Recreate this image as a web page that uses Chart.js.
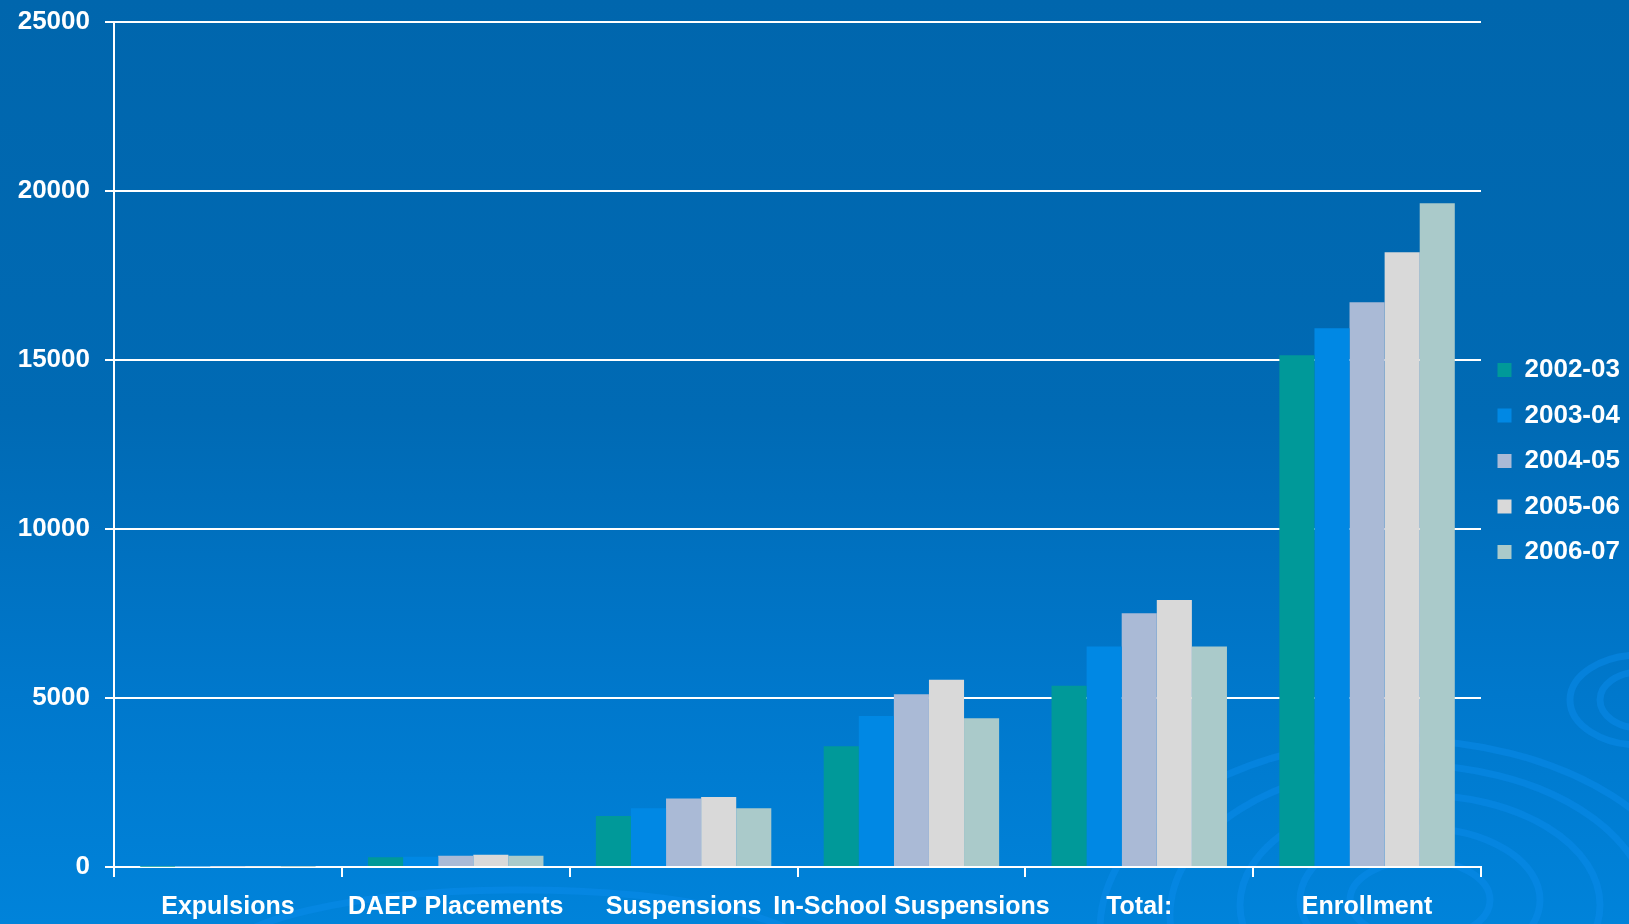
<!DOCTYPE html>
<html>
<head>
<meta charset="utf-8">
<script src="https://cdn.jsdelivr.net/npm/chart.js@4/dist/chart.umd.min.js"></script>
<style>
  html, body { margin: 0; padding: 0; overflow: hidden; }
  body { width: 1629px; height: 924px; position: relative;
         background: linear-gradient(to bottom, #0066AD 0%, #006AB4 45%, #0078CC 75%, #0083DA 100%); }
  #bg { position: absolute; left: 0; top: 0; width: 1629px; height: 924px; }
  #wrap { position: absolute; left: 0; top: 0; width: 1629px; height: 924px; }
</style>
</head>
<body>
<svg id="bg" width="1629" height="924" xmlns="http://www.w3.org/2000/svg">
  <g fill="none" stroke="#0A8CEB" stroke-opacity="0.5" stroke-width="7">
    <ellipse cx="1420" cy="900" rx="70" ry="40"/>
    <ellipse cx="1420" cy="900" rx="120" ry="72"/>
    <ellipse cx="1420" cy="905" rx="180" ry="110"/>
    <ellipse cx="1410" cy="915" rx="240" ry="150"/>
    <ellipse cx="1400" cy="930" rx="300" ry="190"/>
    <ellipse cx="1640" cy="700" rx="40" ry="28"/>
    <ellipse cx="1640" cy="700" rx="70" ry="45"/>
    <ellipse cx="520" cy="960" rx="300" ry="70"/>
  </g>
</svg>
<div id="wrap"><canvas id="c"></canvas></div>
<script>
const categories = ['Expulsions', 'DAEP Placements', 'Suspensions', 'In-School Suspensions', 'Total:', 'Enrollment'];
const seriesNames = ['2002-03', '2003-04', '2004-05', '2005-06', '2006-07'];
const values2002_03 = [10, 290, 1510, 3570, 5360, 15140];
const values2003_04 = [12, 300, 1740, 4470, 6520, 15940];
const values2004_05 = [14, 330, 2030, 5110, 7510, 16710];
const values2005_06 = [15, 360, 2070, 5540, 7900, 18190];
const values2006_07 = [11, 330, 1740, 4400, 6520, 19640];
const yTicks = [0, 5000, 10000, 15000, 20000, 25000];

const seriesValues = [values2002_03, values2003_04, values2004_05, values2005_06, values2006_07];
const seriesColors = ['#009999', '#0088E4', '#AABAD6', '#D9D9D9', '#AACACA'];

const FONT = "'Liberation Sans', Arial, sans-serif";

const datasets = seriesNames.map((name, i) => ({
  label: name,
  data: seriesValues[i],
  backgroundColor: seriesColors[i],
  borderWidth: 0,
  categoryPercentage: 0.77,
  barPercentage: 1.0
}));

const legendNudge = {
  id: 'legendNudge',
  afterLayout(chart) {
    const lg = chart.legend;
    if (!lg) return;
    lg.top -= 12; lg.bottom -= 12;
    lg.left -= 3; lg.right -= 3;
  }
};

new Chart(document.getElementById('c'), {
  type: 'bar',
  data: { labels: categories, datasets: datasets },
  plugins: [legendNudge],
  options: {
    responsive: true,
    maintainAspectRatio: false,
    animation: false,
    layout: { padding: { top: 22, right: 0, bottom: 0, left: 0 } },
    plugins: {
      tooltip: { enabled: false },
      legend: {
        position: 'right',
        maxWidth: 148,
        labels: {
          color: '#FFFFFF',
          boxWidth: 14,
          boxHeight: 14,
          padding: 19.5,
          font: { family: FONT, size: 26, weight: 'bold', lineHeight: 1 }
        }
      }
    },
    scales: {
      x: {
        z: 1,
        grid: { display: true, drawOnChartArea: false, drawTicks: true, tickLength: 10, color: '#FFFFFF', lineWidth: 2 },
        border: { display: true, color: '#FFFFFF', width: 2 },
        ticks: {
          color: '#FFFFFF', padding: 15, maxRotation: 0, autoSkip: false,
          font: { family: FONT, size: 25, weight: 'bold' }
        },
        afterFit: (s) => { s.height = 57; }
      },
      y: {
        min: 0, max: 25000,
        afterBuildTicks: (s) => { s.ticks = yTicks.map(v => ({ value: v })); },
        grid: { color: '#FFFFFF', lineWidth: 2, tickLength: 9, drawTicks: true },
        border: { display: true, color: '#FFFFFF', width: 2 },
        ticks: {
          color: '#FFFFFF', padding: 15,
          callback: (v) => String(v),
          font: { family: FONT, size: 26, weight: 'bold' }
        },
        afterFit: (s) => { s.width = 114; s.paddingTop = 0; }
      }
    }
  }
});
</script>
</body>
</html>
